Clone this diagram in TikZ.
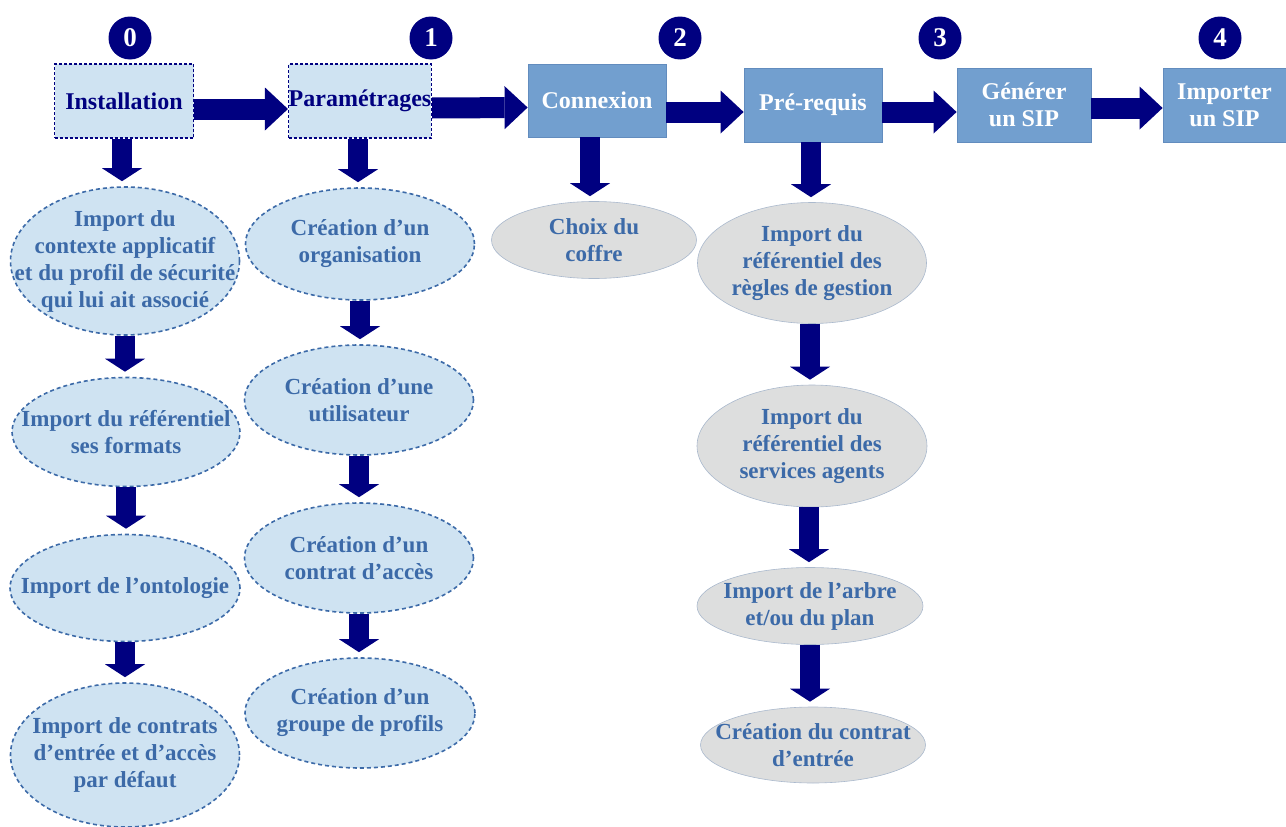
\documentclass[tikz,border=0pt]{standalone}
\usepackage{fontspec}
\setmainfont{Liberation Serif}
\usetikzlibrary{arrows.meta,shapes.geometric}
\definecolor{navy}{RGB}{0,0,128}
\definecolor{lightfill}{RGB}{207,227,242}
\definecolor{steel}{RGB}{60,106,168}
\definecolor{midblue}{RGB}{114,159,207}
\definecolor{midborder}{RGB}{98,140,190}
\definecolor{grayfill}{RGB}{221,222,222}
\definecolor{grayborder}{RGB}{170,185,205}
\tikzset{
  num/.style={circle, fill=navy, text=white, minimum size=43pt, inner sep=0pt,
    font=\fontsize{27}{27}\selectfont\bfseries},
  dbox/.style={rectangle, draw=navy, line width=1.5pt, dash pattern=on 3pt off 2pt,
    fill=lightfill, text=navy, inner sep=0pt, align=center,
    font=\fontsize{24}{27}\selectfont\bfseries},
  sbox/.style={rectangle, draw=midborder, line width=0.8pt, fill=midblue, text=white,
    inner sep=0pt, align=center, font=\fontsize{24}{27}\selectfont\bfseries},
  dell/.style={ellipse, draw=steel, line width=1.6pt, dash pattern=on 4pt off 3pt,
    fill=lightfill, text=steel, inner sep=-60pt, align=center,
    font=\fontsize{23}{27}\selectfont\bfseries},
  gell/.style={ellipse, draw=grayborder, line width=0.6pt, fill=grayfill, text=steel,
    inner sep=-60pt, align=center, font=\fontsize{23}{27}\selectfont\bfseries},
  harrow/.style={draw=navy, line width=21pt,
    -{Triangle[length=23pt,width=43pt,line width=0pt]}},
  varrow/.style={draw=navy, line width=20pt,
    -{Triangle[length=13pt,width=40pt,line width=0pt]}, shorten >=5pt},
}
\begin{document}
\begin{tikzpicture}[x=1pt,y=-1pt]
\useasboundingbox (0,0) rectangle (1286,827);

% step numbers
\node[num] (n0) at (130,38) {0};
\node[num] (n1) at (431,38) {1};
\node[num] (n2) at (680,38) {2};
\node[num] (n3) at (940,38) {3};
\node[num] (n4) at (1220,38) {4};

% top boxes
\node[dbox, minimum width=139pt, minimum height=74pt] (inst) at (124,101) {Installation};
\node[dbox, minimum width=140pt, minimum height=74pt] (param) at (360,101) {Paramétrages};
\node[sbox, minimum width=138pt, minimum height=73pt] (conn) at (597,100.5) {Connexion};
\node[sbox, minimum width=138pt, minimum height=74pt] (pre) at (813,105) {Pré-requis};
\node[sbox, minimum width=134pt, minimum height=74pt] (gen) at (1024,105) {Générer\\un SIP};
\node[sbox, minimum width=123pt, minimum height=74pt] (imp) at (1224.5,105) {Importer\\un SIP};

% column 0
\node[dell, minimum width=229pt, minimum height=148pt] (e1) at (125,261)
  {Import du\\contexte applicatif\\et du profil de sécurité\\qui lui ait associé};
\node[dell, minimum width=228pt, minimum height=109pt] (e2) at (126,432)
  {Import du référentiel\\ses formats};
\node[dell, minimum width=230pt, minimum height=107pt] (e3) at (125,588)
  {Import de l’ontologie};
\node[dell, minimum width=229pt, minimum height=144pt] (e4) at (125,755)
  {Import de contrats\\d’entrée et d’accès\\par défaut};

% column 1
\node[dell, minimum width=229pt, minimum height=112pt] (f1) at (360,244)
  {Création d’un\\organisation};
\node[dell, minimum width=229pt, minimum height=110pt] (f2) at (359,400)
  {Création d’une\\utilisateur};
\node[dell, minimum width=229pt, minimum height=110pt] (f3) at (359,558)
  {Création d’un\\contrat d’accès};
\node[dell, minimum width=230pt, minimum height=110pt] (f4) at (360,713)
  {Création d’un\\groupe de profils};

% column 2
\node[gell, minimum width=205pt, minimum height=77pt] (c1) at (594,240)
  {Choix du\\coffre};

% column 3
\node[gell, minimum width=229pt, minimum height=121pt] (g1) at (812,263)
  {Import du\\référentiel des\\règles de gestion};
\node[gell, minimum width=230pt, minimum height=122pt] (g2) at (812,446)
  {Import du\\référentiel des\\services agents};
\node[gell, minimum width=226pt, minimum height=77pt] (g3) at (810,606)
  {Import de l’arbre\\et/ou du plan};
\node[gell, minimum width=225pt, minimum height=76pt] (g4) at (813,745)
  {Création du contrat\\d’entrée};

% horizontal arrows
\draw[harrow] ([yshift=-8pt]inst.east) -- ([yshift=-8pt]param.west);
\draw[harrow] ([yshift=-7pt]param.east) -- ([yshift=-7pt]conn.west);
\draw[harrow] ([yshift=-11.5pt]conn.east) -- ([yshift=-7pt]pre.west);
\draw[harrow] ([yshift=-7pt]pre.east) -- ([yshift=-7pt]gen.west);
\draw[harrow] ([yshift=-3pt]gen.east) -- ([yshift=-3pt]imp.west);

% vertical arrows
\draw[varrow] ([xshift=-2pt]inst.south) -- ([xshift=-2pt]inst.south |- e1.north);
\draw[varrow] (e1.south) -- (e1.south |- e2.north);
\draw[varrow] (e2.south) -- (e2.south |- e3.north);
\draw[varrow] (e3.south) -- (e3.south |- e4.north);

\draw[varrow] ([xshift=-2pt]param.south) -- ([xshift=-2pt]param.south |- f1.north);
\draw[varrow] (f1.south) -- (f1.south |- f2.north);
\draw[varrow] (f2.south) -- (f2.south |- f3.north);
\draw[varrow] (f3.south) -- (f3.south |- f4.north);

\draw[varrow] ([xshift=-7pt]conn.south) -- ([xshift=-7pt]conn.south |- c1.north);

\draw[varrow] ([xshift=-2pt]pre.south) -- ([xshift=-2pt]pre.south |- g1.north);
\draw[varrow] ([xshift=-2pt]g1.south) -- ([xshift=-2pt]g1.south |- g2.north);
\draw[varrow] ([xshift=-3pt]g2.south) -- ([xshift=-3pt]g2.south |- g3.north);
\draw[varrow] (g3.south) -- (g3.south |- g4.north);
\end{tikzpicture}
\end{document}
